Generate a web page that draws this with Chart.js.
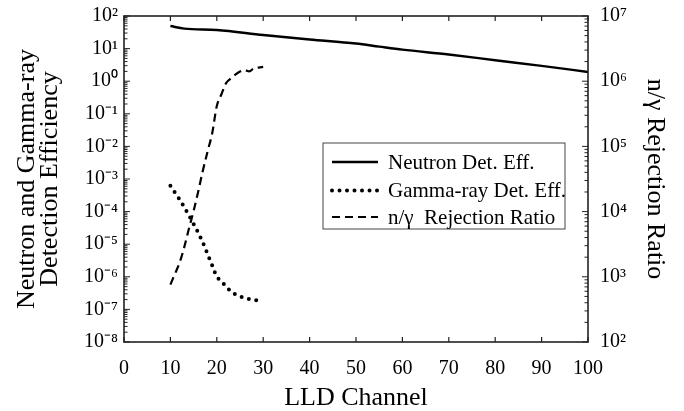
<!DOCTYPE html>
<html><head><meta charset="utf-8">
<script src="https://cdn.jsdelivr.net/npm/chart.js@4/dist/chart.umd.min.js"></script>
<style>html,body{margin:0;padding:0;background:#fff}#wrap{width:684px;height:411px;position:relative}</style>
</head><body><div id="wrap"><canvas id="c"></canvas></div>
<script>
// ---- data ----
const neutronChannels = [10, 13, 20, 30, 40, 50, 55, 60, 70, 80, 90, 100];
const neutronEff = [49, 41, 37, 26, 19, 14.3, 11.5, 9.3, 6.6, 4.4, 2.95, 1.93];
const gammaChannels = [10,11,12,13,14,15,16,17,18,19,20,21,22,23,24,25,26,27,28,29,30];
const gammaEff = [6.2e-4,3.8e-4,2.34e-4,1.35e-4,7.6e-5,4.17e-5,2.24e-5,1.12e-5,5.0e-6,2.24e-6,1.0e-6,7.4e-7,5.0e-7,3.63e-7,2.88e-7,2.51e-7,2.19e-7,2.09e-7,2.0e-7,1.82e-7,1.62e-7];
const rejChannels = [10,11,12,13,14,15,16,17,18,19,20,21,22,23,24,25,26,27,28,29,30];
const rejRatio = [760,1120,1660,2880,5500,10200,20400,42700,83000,158000,417000,631000,933000,1100000,1260000,1410000,1480000,1410000,1580000,1620000,1660000];
const xTicks = [0,10,20,30,40,50,60,70,80,90,100];
const leftDecades = [-8,-7,-6,-5,-4,-3,-2,-1,0,1,2];
const rightDecades = [2,3,4,5,6,7];
const seriesNames = ['Neutron Det. Eff.', 'Gamma-ray Det. Eff.', 'n/\u03b3  Rejection Ratio'];
const xTitle = 'LLD Channel';
const yTitle = ['Neutron and Gamma-ray', 'Detection Efficiency'];
const y2Title = 'n/\u03b3 Rejection Ratio';

// ---- helpers ----
const SUP = {'0':'\u2070','1':'\u00b9','2':'\u00b2','3':'\u00b3','4':'\u2074','5':'\u2075','6':'\u2076','7':'\u2077','8':'\u2078','9':'\u2079','-':'\u207b'};
const isPow = v => Math.abs(Math.log10(v) - Math.round(Math.log10(v))) < 1e-6;
const powLabel = v => isPow(v) ? '10' + String(Math.round(Math.log10(v))).split('').map(c => SUP[c]).join('') : '';
function logTicks(decs) {
  const out = [];
  for (let i = 0; i < decs.length; i++) {
    const base = Math.pow(10, decs[i]);
    if (i === decs.length - 1) { out.push({value: base}); break; }
    for (let k = 1; k <= 9; k++) out.push({value: k * base});
  }
  return out;
}
const pts = (xs, ys) => xs.map((x, i) => ({x, y: ys[i]}));

const SERIF = '"Liberation Serif", "Times New Roman", serif';
const BLACK = '#000';
const styles = [
  {borderWidth: 2.5, borderDash: [], borderCapStyle: 'butt'},
  {borderWidth: 4, borderDash: [0, 7.5], borderCapStyle: 'round'},
  {borderWidth: 2.2, borderDash: [8, 5], borderCapStyle: 'butt'}
];

const framePlugin = {
  id: 'frame',
  afterDatasetsDraw(chart) {
    const {ctx, chartArea: a, scales} = chart;
    const line = (x1, y1, x2, y2) => { ctx.beginPath(); ctx.moveTo(x1, y1); ctx.lineTo(x2, y2); ctx.stroke(); };
    ctx.save();
    ctx.strokeStyle = '#222';
    ctx.lineWidth = 1.2;
    scales.x.ticks.forEach(t => {
      const px = scales.x.getPixelForValue(t.value);
      line(px, a.bottom, px, a.bottom - 5);
      line(px, a.top, px, a.top + 5);
    });
    ctx.lineWidth = 1;
    scales.y.ticks.forEach(t => {
      const py = scales.y.getPixelForValue(t.value);
      line(a.left, py, a.left + (isPow(t.value) ? 6 : 3.5), py);
    });
    scales.y2.ticks.forEach(t => {
      const py = scales.y2.getPixelForValue(t.value);
      line(a.right, py, a.right - (isPow(t.value) ? 6 : 3.5), py);
    });
    ctx.lineWidth = 1.6;
    ctx.strokeRect(a.left, a.top, a.right - a.left, a.bottom - a.top);

    // legend
    const lx = a.left + 199, ly = a.top + 127, lw = 242, lh = 86;
    ctx.fillStyle = '#fff';
    ctx.fillRect(lx, ly, lw, lh);
    ctx.strokeStyle = '#444';
    ctx.lineWidth = 1;
    ctx.strokeRect(lx, ly, lw, lh);
    const rows = [ly + 19, ly + 47.5, ly + 74];
    ctx.font = '21px ' + SERIF;
    ctx.textBaseline = 'middle';
    ctx.textAlign = 'left';
    seriesNames.forEach((name, i) => {
      const s = styles[i];
      ctx.strokeStyle = BLACK;
      ctx.lineWidth = s.borderWidth;
      ctx.setLineDash(s.borderDash);
      ctx.lineCap = s.borderCapStyle;
      line(lx + 9, rows[i], lx + 55, rows[i]);
      ctx.setLineDash([]);
      ctx.lineCap = 'butt';
      ctx.fillStyle = BLACK;
      ctx.fillText(name, lx + 65, rows[i] + 1);
    });
    ctx.restore();
  }
};

const mk = (label, data, axis, s) => Object.assign({
  label, data, yAxisID: axis, borderColor: BLACK, backgroundColor: BLACK,
  pointRadius: 0, fill: false, cubicInterpolationMode: 'monotone'
}, s);

const noPad = s => { s.paddingTop = 0; s.paddingBottom = 0; s.paddingLeft = 0; s.paddingRight = 0; };

new Chart(document.getElementById('c'), {
  type: 'line',
  data: {
    datasets: [
      mk(seriesNames[0], pts(neutronChannels, neutronEff), 'y', styles[0]),
      mk(seriesNames[1], pts(gammaChannels, gammaEff), 'y', styles[1]),
      mk(seriesNames[2], pts(rejChannels, rejRatio), 'y2', styles[2])
    ]
  },
  options: {
    responsive: true, maintainAspectRatio: false, animation: false,
    layout: {padding: {top: 16, left: 0, right: 0, bottom: 0}},
    plugins: {legend: {display: false}, tooltip: {enabled: false}},
    scales: {
      x: {
        type: 'linear', position: 'bottom', min: 0, max: 100,
        afterBuildTicks: s => { s.ticks = xTicks.map(v => ({value: v})); },
        ticks: {autoSkip: false, maxRotation: 0, padding: 15, color: BLACK, font: {family: SERIF, size: 20}},
        grid: {display: false, drawTicks: false}, border: {display: false},
        title: {display: true, text: xTitle, color: BLACK, font: {family: SERIF, size: 26, lineHeight: 1}, padding: {top: 0, bottom: 0}},
        afterFit: s => { s.height = 69; noPad(s); }
      },
      y: {
        type: 'logarithmic', position: 'left', min: 1e-8, max: 100,
        afterBuildTicks: s => { s.ticks = logTicks(leftDecades); },
        ticks: {autoSkip: false, padding: 6, color: BLACK, font: {family: SERIF, size: 20}, callback: v => powLabel(v)},
        grid: {display: false, drawTicks: false}, border: {display: false},
        title: {display: true, text: yTitle, color: BLACK, font: {family: SERIF, size: 26, lineHeight: 0.885}, padding: {top: 15.5, bottom: 0}},
        afterFit: s => { s.width = 124; noPad(s); }
      },
      y2: {
        type: 'logarithmic', position: 'right', min: 100, max: 1e7,
        afterBuildTicks: s => { s.ticks = logTicks(rightDecades); },
        ticks: {autoSkip: false, padding: 12, color: BLACK, font: {family: SERIF, size: 20}, callback: v => powLabel(v)},
        grid: {display: false, drawTicks: false}, border: {display: false},
        title: {display: true, text: y2Title, color: BLACK, font: {family: SERIF, size: 26, lineHeight: 1}, padding: {top: 16, bottom: 0}},
        afterFit: s => { s.width = 96; noPad(s); }
      }
    }
  },
  plugins: [framePlugin]
});
</script>
</body></html>
